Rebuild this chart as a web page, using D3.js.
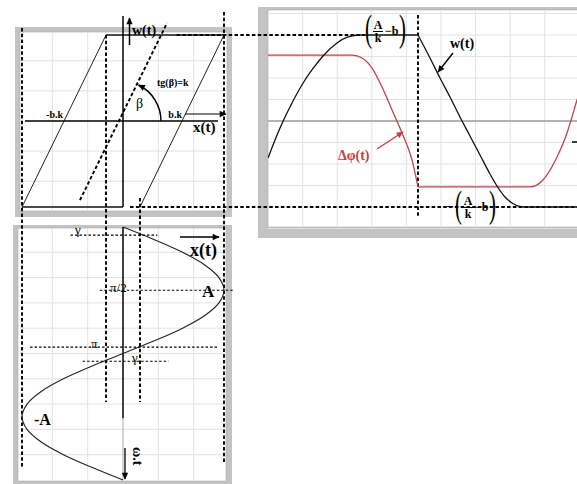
<!DOCTYPE html>
<html><head><meta charset="utf-8">
<script src="https://cdn.jsdelivr.net/npm/d3@7"></script>
<style>body{margin:0;background:#fff}svg{display:block}text{font-family:'Liberation Serif','DejaVu Serif',serif}</style>
</head><body><svg id="c" width="577" height="484"></svg>
<script>
// ================= DATA =================
// Hysteresis (backlash) loop, top-left panel: x in units of A, w in units of (A/k - b)
const loopLeftX  = [-1, -0.168],  loopLeftW  = [-1, 1];
const loopRightX = [0.168, 1],    loopRightW = [-1, 1];
const loopTopX   = [-0.168, 1];   // at w = 1
const loopBottomX = [-1, 0];      // at w = -1
const slopeLineX = [-0.426, 0.436], slopeLineW = [-0.92, 1.14];
const bkValue = 0.584;            // where the legs cross w = 0

// Right panel: time (grid units) vs w(t) and Δφ(t)
const wRiseT = [0, 0.347, 0.723, 1.069, 1.358, 1.59, 1.994, 2.312, 2.659, 4.335];
const wRiseV = [-0.43, -0.081, 0.233, 0.477, 0.64, 0.756, 0.907, 0.977, 1, 1];
const wFallT = [4.335, 4.682, 4.971, 5.26, 5.549, 5.838, 6.127, 6.416, 6.618, 6.85, 7.052, 7.283, 7.514, 8.95];
const wFallV = [1, 0.733, 0.5, 0.279, 0.047, -0.174, -0.395, -0.616, -0.756, -0.884, -0.953, -0.994, -1, -1];
const phiFallT = [0, 2.428, 2.717, 3.006, 3.295, 3.584, 3.873, 4.162, 4.335];
const phiFallV = [0.767, 0.767, 0.733, 0.616, 0.395, 0.128, -0.14, -0.453, -0.767];
const phiRiseT = [4.335, 7.572, 7.948, 8.353, 8.642, 8.786, 8.931, 9.1];
const phiRiseV = [-0.767, -0.767, -0.686, -0.419, -0.14, 0.047, 0.244, 0.44];

// Bottom panel: input x(t) = A sin(ωt), ωt in degrees going downward
const omegaDeg = [0,18,36,54,72,90,108,126,144,162,180,198,216,234,252,270,288,306,324,342,360];
const inputX   = [0,0.31,0.59,0.81,0.95,1,0.95,0.81,0.59,0.31,0,-0.31,-0.59,-0.81,-0.95,-1,-0.95,-0.81,-0.59,-0.31,0];
const phaseLabels = ["γ", "π/2", "π", "γ"];
const phaseDeg    = [11.5, 90, 171, 191];

// ================= SCALES =================
const svg = d3.select("#c");
const xTL = d3.scaleLinear([-1, 1], [22, 224]);
const wY  = d3.scaleLinear([-1, 1], [207, 35]);
const tX  = d3.scaleLinear([0, 9], [268, 579.4]);
const thY = d3.scaleLinear([0, 360], [227, 480]);

const frameGray = "#c3c3c3", gridCol = "#e2e2e2", red = "#c0424c";

// markers
const defs = svg.append("defs");
function marker(id, col) {
  defs.append("marker").attr("id", id).attr("viewBox", "0 0 10 10")
    .attr("refX", 9).attr("refY", 5).attr("markerWidth", 9).attr("markerHeight", 7)
    .attr("markerUnits", "userSpaceOnUse").attr("orient", "auto")
    .append("path").attr("d", "M0,0.5 L10,5 L0,9.5 Z").attr("fill", col);
}
marker("arr", "#000"); marker("arrR", red);

// ================= FRAMES =================
function frame(x, y, w, h, ix, iy, iw, ih) {
  svg.append("rect").attr("x", x).attr("y", y).attr("width", w).attr("height", h).attr("fill", frameGray);
  svg.append("rect").attr("x", ix).attr("y", iy).attr("width", iw).attr("height", ih).attr("fill", "#fff")
    .attr("stroke", "#a8a8a8").attr("stroke-width", 0.6);
}
frame(15, 27, 217, 190, 20, 32, 207, 179);
frame(258, 7, 330, 231, 268, 10, 320, 217);
frame(13, 225, 219, 265, 18, 228, 208, 253);

// ================= GRIDS =================
const gTL = svg.append("g").attr("stroke", gridCol).attr("stroke-width", 1);
[-0.7, -0.35, 0.35, 0.7].forEach(v => {
  gTL.append("line").attr("x1", xTL(v)).attr("x2", xTL(v)).attr("y1", 32).attr("y2", 211);
  gTL.append("line").attr("y1", wY(v)).attr("y2", wY(v)).attr("x1", 20).attr("x2", 227);
  gTL.append("line").attr("x1", xTL(v)).attr("x2", xTL(v)).attr("y1", 228).attr("y2", 481);
});
d3.range(1, 10).forEach(i => {
  const d = i * 36;
  gTL.append("line").attr("y1", thY(d)).attr("y2", thY(d)).attr("x1", 18).attr("x2", 226);
});
const gR = svg.append("g").attr("stroke", gridCol).attr("stroke-width", 1);
d3.range(1, 9).forEach(i => gR.append("line").attr("x1", tX(i)).attr("x2", tX(i)).attr("y1", 10).attr("y2", 227));
[-1.25, -1, -0.75, -0.5, -0.25, 0.25, 0.5, 0.75, 1, 1.25].forEach(v =>
  gR.append("line").attr("y1", wY(v)).attr("y2", wY(v)).attr("x1", 268).attr("x2", 577));
svg.append("line").attr("x1", 268).attr("x2", 577).attr("y1", wY(0)).attr("y2", wY(0))
  .attr("stroke", "#9a9a9a").attr("stroke-width", 1.3);

// ================= TOP-LEFT: HYSTERESIS =================
const lineTL = d3.line().x(d => xTL(d[0])).y(d => wY(d[1]));
const thin = { stroke: "#222", "stroke-width": 1, fill: "none" };
function path(d, attrs) { const p = svg.append("path").attr("d", d); for (const k in attrs) p.attr(k, attrs[k]); return p; }
path(lineTL(d3.zip(loopLeftX, loopLeftW)), thin);
path(lineTL(d3.zip(loopRightX, loopRightW)), thin);
path(lineTL(loopTopX.map(x => [x, 1])), { stroke: "#111", "stroke-width": 1.6, fill: "none" });
path(lineTL(loopBottomX.map(x => [x, -1])), { stroke: "#111", "stroke-width": 1.6, fill: "none" });

// axes
svg.append("line").attr("x1", xTL(0)).attr("x2", xTL(0)).attr("y1", 16).attr("y2", wY(-1))
  .attr("stroke", "#000").attr("stroke-width", 1.5);
svg.append("line").attr("x1", 25).attr("x2", 218).attr("y1", wY(0)).attr("y2", wY(0))
  .attr("stroke", "#000").attr("stroke-width", 1.5);
svg.append("line").attr("x1", 129.5).attr("x2", 129.5).attr("y1", 45).attr("y2", 18)
  .attr("stroke", "#000").attr("stroke-width", 1.5).attr("marker-end", "url(#arr)");
svg.append("line").attr("x1", 185).attr("x2", 226).attr("y1", 114).attr("y2", 114)
  .attr("stroke", "#000").attr("stroke-width", 1.2).attr("marker-end", "url(#arr)");

// dashed lines
const dashA = { stroke: "#000", "stroke-width": 1.9, "stroke-dasharray": "3.5,2.3", fill: "none" };
function dline(x1, y1, x2, y2) { return path(`M${x1},${y1}L${x2},${y2}`, dashA); }
path(lineTL(d3.zip(slopeLineX, slopeLineW)), dashA);
dline(xTL(-1), 28, xTL(-1), 468);
dline(xTL(1), 12, xTL(1), 462);
dline(xTL(-0.168), wY(1), xTL(-0.168), 402);
dline(xTL(0.168), 198, xTL(0.168), 402);
dline(xTL(0.53), wY(1), tX(2.8), wY(1));
dline(xTL(0.07), wY(-1), 577, wY(-1));
dline(tX(4.335), 15, tX(4.335), 217);

// β arc
const cx0 = xTL(-0.02), cy0 = wY(0);
const ap = d3.path(); ap.arc(cx0, cy0, 40, 0, -64 * Math.PI / 180, true);
path(ap.toString(), { stroke: "#000", "stroke-width": 1.5, fill: "none", "marker-end": "url(#arr)" });

function label(x, y, txt, size, weight, col, anchor) {
  return svg.append("text").attr("x", x).attr("y", y).text(txt).attr("font-size", size)
    .attr("font-weight", weight || "bold").attr("fill", col || "#000").attr("text-anchor", anchor || "start");
}
label(132, 35, "w(t)", 14);
label(157, 86, "tg(β)=k", 10);
label(136, 108, "β", 14, "normal");
label(xTL(-bkValue) - 1, wY(0) - 3, "-b.k", 10, "bold", "#000", "end");
label(xTL(bkValue), wY(0) - 3, "b.k", 10, "bold", "#000", "end");
label(193, 132, "x(t)", 15);

// ================= RIGHT: TIME RESPONSES =================
const lineR = d3.line().x(d => tX(d[0])).y(d => wY(d[1])).curve(d3.curveMonotoneX);
const clipR = defs.append("clipPath").attr("id", "clipR");
clipR.append("rect").attr("x", 268).attr("y", 10).attr("width", 320).attr("height", 217);
const gCurves = svg.append("g").attr("clip-path", "url(#clipR)");
const blackC = { stroke: "#111", "stroke-width": 1.3, fill: "none" };
const redC = { stroke: red, "stroke-width": 1.3, fill: "none" };
function cpath(d, attrs) { const p = gCurves.append("path").attr("d", d); for (const k in attrs) p.attr(k, attrs[k]); }
cpath(lineR(d3.zip(phiFallT, phiFallV)), redC);
cpath(lineR(d3.zip(phiRiseT, phiRiseV)), redC);
cpath(lineR(d3.zip(wRiseT, wRiseV)), blackC);
cpath(lineR(d3.zip(wFallT, wFallV)), blackC);

function paren(g, x, cy, ch) {
  g.append("text").attr("x", 0).attr("y", 0).text(ch).attr("font-size", 38).attr("font-weight", "normal")
    .attr("transform", `translate(${x},${cy + 10}) scale(0.55,1)`);
}
function fracLabel(x, cy, neg) {
  const g = svg.append("g");
  if (neg) g.append("text").attr("x", x - 9).attr("y", cy + 4).text("−").attr("font-size", 13).attr("font-weight", "bold");
  paren(g, x, cy, "(");
  g.append("text").attr("x", x + 13).attr("y", cy - 2).text("A").attr("font-size", 12).attr("font-weight", "bold").attr("text-anchor", "middle");
  g.append("line").attr("x1", x + 8).attr("x2", x + 18).attr("y1", cy + 0.5).attr("y2", cy + 0.5).attr("stroke", "#000").attr("stroke-width", 1);
  g.append("text").attr("x", x + 13).attr("y", cy + 11).text("k").attr("font-size", 12).attr("font-weight", "bold").attr("text-anchor", "middle");
  g.append("text").attr("x", x + 20).attr("y", cy + 4).text("−b").attr("font-size", 12).attr("font-weight", "bold");
  paren(g, x + 34, cy, ")");
}
fracLabel(365, wY(1) - 4, false);
fracLabel(455, wY(-1), true);

label(450, 48, "w(t)", 14);
svg.append("line").attr("x1", 453).attr("y1", 53).attr("x2", 438).attr("y2", 72)
  .attr("stroke", "#000").attr("stroke-width", 1.4).attr("marker-end", "url(#arr)");
label(338, 160, "Δφ(t)", 14, "bold", red);
svg.append("line").attr("x1", 377).attr("y1", 149).attr("x2", 403).attr("y2", 132)
  .attr("stroke", red).attr("stroke-width", 1.4).attr("marker-end", "url(#arrR)");
svg.append("line").attr("x1", 572).attr("x2", 577).attr("y1", 142).attr("y2", 142).attr("stroke", "#000").attr("stroke-width", 1.5);

// ================= BOTTOM: INPUT SINUSOID =================
svg.append("line").attr("x1", xTL(0)).attr("x2", xTL(0)).attr("y1", thY(0)).attr("y2", thY(272))
  .attr("stroke", "#000").attr("stroke-width", 1.5);
svg.append("line").attr("x1", xTL(0)).attr("x2", xTL(0)).attr("y1", thY(272)).attr("y2", thY(360))
  .attr("stroke", "#aaa").attr("stroke-width", 1);
const lineB = d3.line().x(d => xTL(d[1])).y(d => thY(d[0])).curve(d3.curveCatmullRom);
path(lineB(d3.zip(omegaDeg, inputX)), { stroke: "#222", "stroke-width": 1.1, fill: "none" });

const phaseExt = [[-0.52, 0.34], [-0.23, 1.1], [-0.92, 0.94], [-0.4, 0.45]];
const phaseLab = [[75, 234], [110, 292], [91, 348], [132, 362]];
phaseDeg.forEach((d, i) => {
  path(`M${xTL(phaseExt[i][0])},${thY(d)}L${xTL(phaseExt[i][1])},${thY(d)}`,
    { stroke: "#000", "stroke-width": 1.2, "stroke-dasharray": "2.5,2", fill: "none" });
  label(phaseLab[i][0], phaseLab[i][1], phaseLabels[i], 13, "normal");
});

label(190, 256, "x(t)", 18);
svg.append("line").attr("x1", 180).attr("x2", 219).attr("y1", 237).attr("y2", 237)
  .attr("stroke", "#000").attr("stroke-width", 1.4).attr("marker-end", "url(#arr)");
label(202, 297, "A", 17);
label(34, 425, "-A", 16);
svg.append("line").attr("x1", 125).attr("x2", 125).attr("y1", 448).attr("y2", 479)
  .attr("stroke", "#000").attr("stroke-width", 1.3).attr("marker-end", "url(#arr)");
label(0, 0, "ω.t", 14).attr("transform", "translate(133,447) rotate(90)");
</script></body></html>
